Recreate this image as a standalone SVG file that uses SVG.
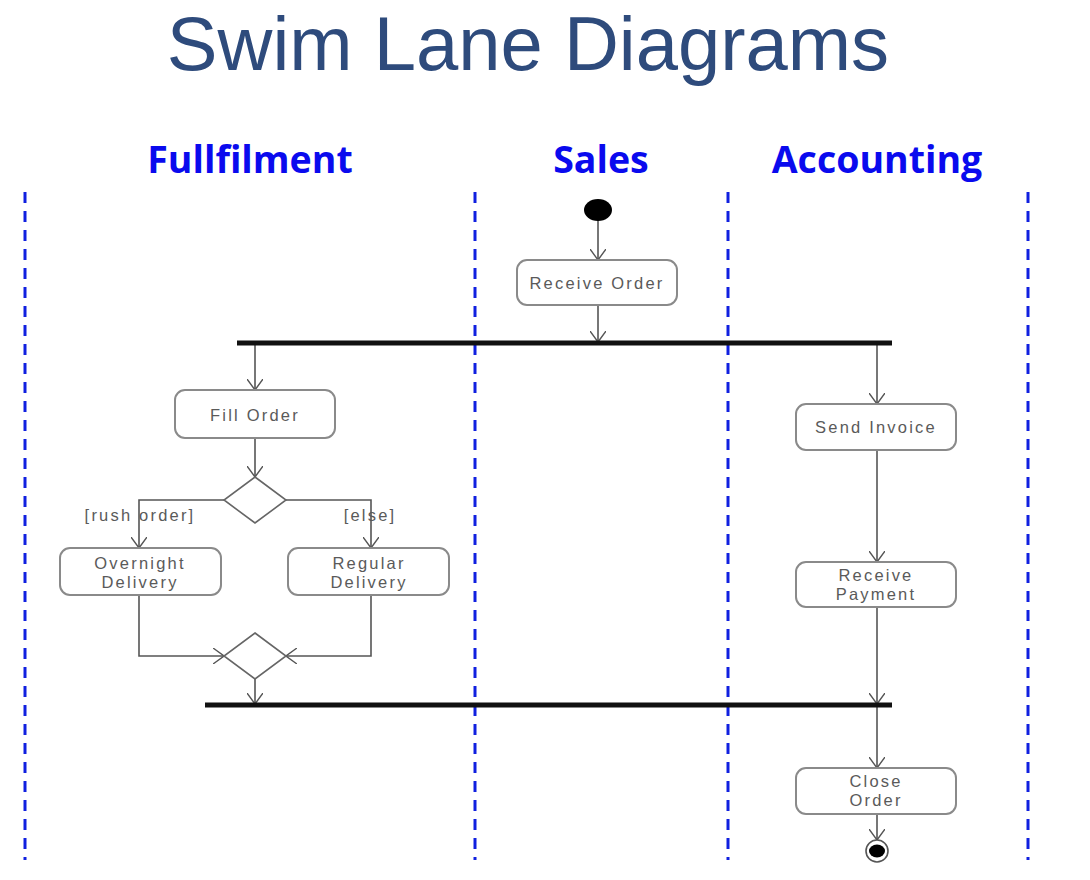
<svg xmlns="http://www.w3.org/2000/svg" width="1090" height="880" viewBox="0 0 1090 880">
<defs>
<style>
.title{font-family:"Liberation Sans",Arial,sans-serif;font-size:76px;fill:#2E4B7C}
.lane{font-family:"Open Sans","Liberation Sans",sans-serif;font-weight:bold;font-size:37.5px;fill:#0A0AEE}
.div{stroke:#1020E0;stroke-width:3;stroke-dasharray:11 8;fill:none}
.box{fill:#fff;stroke:#8a8a8a;stroke-width:2}
.t{font-family:"Liberation Sans",Arial,sans-serif;font-size:16.5px;fill:#5a5a5a;text-anchor:middle;letter-spacing:2.2px}
.c{stroke:#555;stroke-width:1.6;fill:none}
.bar{stroke:#111;stroke-width:5}
.dia{fill:#fff;stroke:#666;stroke-width:1.6}
</style>
<marker id="arr" viewBox="0 0 12 16" refX="11" refY="8" markerWidth="12" markerHeight="16" markerUnits="userSpaceOnUse" orient="auto">
<path d="M0,0 L11,8 L0,16" fill="none" stroke="#555" stroke-width="1.4"/>
</marker>
</defs>
<rect width="1090" height="880" fill="#fff"/>
<text class="title" x="528" y="70" text-anchor="middle">Swim Lane Diagrams</text>
<g id="lanes">
<text class="lane" x="250" y="173" text-anchor="middle">Fullfilment</text>
<text class="lane" x="601" y="173" text-anchor="middle">Sales</text>
<text class="lane" x="877" y="173" text-anchor="middle">Accounting</text>
<line class="div" x1="25" y1="192" x2="25" y2="860"/>
<line class="div" x1="475" y1="192" x2="475" y2="860"/>
<line class="div" x1="728" y1="192" x2="728" y2="860"/>
<line class="div" x1="1028" y1="192" x2="1028" y2="860"/>
</g>
<g id="connectors">
<line class="c" x1="598" y1="220" x2="598" y2="260" marker-end="url(#arr)"/>
<line class="c" x1="598" y1="305" x2="598" y2="342" marker-end="url(#arr)"/>
<line class="c" x1="255" y1="344" x2="255" y2="390" marker-end="url(#arr)"/>
<line class="c" x1="255" y1="438" x2="255" y2="477" marker-end="url(#arr)"/>
<polyline class="c" points="224,500 139,500 139,548" marker-end="url(#arr)"/>
<polyline class="c" points="286,500 371,500 371,548" marker-end="url(#arr)"/>
<polyline class="c" points="139,595 139,656 224,656" marker-end="url(#arr)"/>
<polyline class="c" points="371,595 371,656 286,656" marker-end="url(#arr)"/>
<line class="c" x1="255" y1="679" x2="255" y2="704" marker-end="url(#arr)"/>
<line class="c" x1="877" y1="344" x2="877" y2="404" marker-end="url(#arr)"/>
<line class="c" x1="877" y1="450" x2="877" y2="562" marker-end="url(#arr)"/>
<line class="c" x1="877" y1="607" x2="877" y2="704" marker-end="url(#arr)"/>
<line class="c" x1="877" y1="706" x2="877" y2="768" marker-end="url(#arr)"/>
<line class="c" x1="877" y1="814" x2="877" y2="840" marker-end="url(#arr)"/>
<text class="t" x="140" y="521">[rush order]</text>
<text class="t" x="370" y="521">[else]</text>
</g>
<g id="start"><ellipse cx="598" cy="210" rx="14" ry="11" fill="#000"/></g>
<g id="receive-order"><rect class="box" x="517" y="260" width="160" height="45" rx="10"/><text class="t" x="597" y="289">Receive Order</text></g>
<g id="fork"><line class="bar" x1="237" y1="343" x2="892" y2="343"/></g>
<g id="fill-order"><rect class="box" x="175" y="390" width="160" height="48" rx="10"/><text class="t" x="255" y="421">Fill Order</text></g>
<g id="decision"><polygon class="dia" points="255,477 286,500 255,523 224,500"/></g>
<g id="overnight"><rect class="box" x="60" y="548" width="161" height="47" rx="10"/><text class="t" x="140" y="569">Overnight</text><text class="t" x="140" y="588">Delivery</text></g>
<g id="regular"><rect class="box" x="288" y="548" width="161" height="47" rx="10"/><text class="t" x="369" y="569">Regular</text><text class="t" x="369" y="588">Delivery</text></g>
<g id="merge"><polygon class="dia" points="255,633 286,656 255,679 224,656"/></g>
<g id="join"><line class="bar" x1="205" y1="705" x2="892" y2="705"/></g>
<g id="send-invoice"><rect class="box" x="796" y="404" width="160" height="46" rx="10"/><text class="t" x="876" y="433">Send Invoice</text></g>
<g id="receive-payment"><rect class="box" x="796" y="562" width="160" height="45" rx="10"/><text class="t" x="876" y="581">Receive</text><text class="t" x="876" y="600">Payment</text></g>
<g id="close-order"><rect class="box" x="796" y="768" width="160" height="46" rx="10"/><text class="t" x="876" y="787">Close</text><text class="t" x="876" y="806">Order</text></g>
<g id="end"><circle cx="877" cy="851" r="11" fill="#fff" stroke="#555" stroke-width="1.6"/><ellipse cx="877" cy="851" rx="8" ry="6.5" fill="#000"/></g>
</svg>
